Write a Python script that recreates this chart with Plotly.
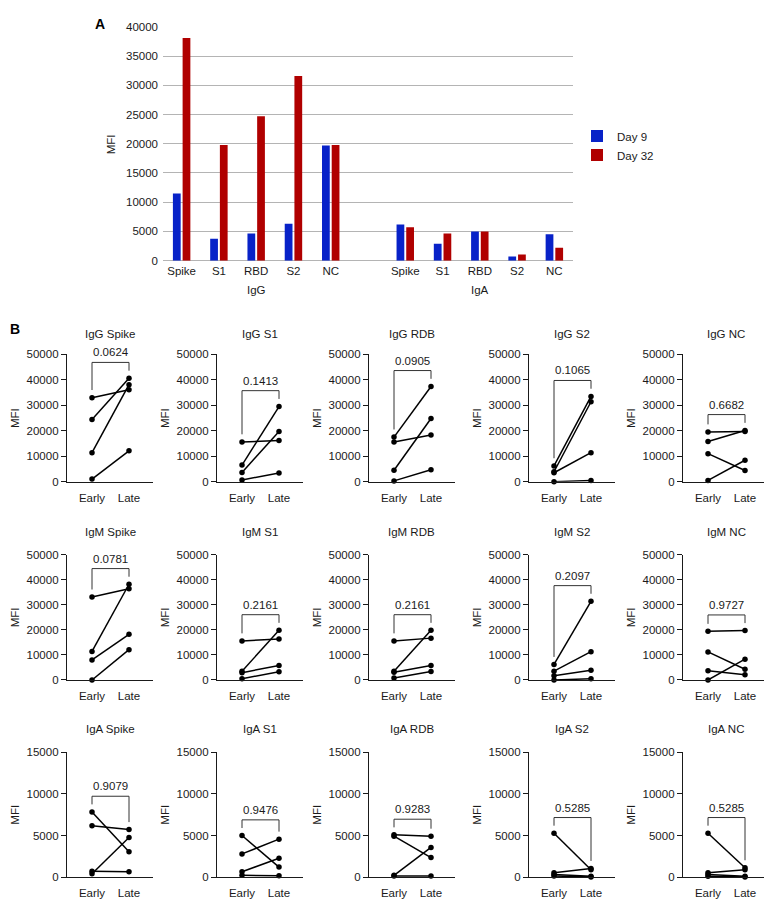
import plotly.graph_objects as go

# page body has an 8px default margin: the figure is laid out in page pixels
PAGE_W, PAGE_H = 772, 906
OFF = 8
W, H = PAGE_W - OFF, PAGE_H - OFF
FONT = "Liberation Sans, Arial, Helvetica, sans-serif"
FS = 11.5
BLUE = "#0822C8"
RED = "#B00000"
INK = "#1a1a1a"

# ---------------- Panel A data ----------------
cats_A = ["Spike", "S1", "RBD", "S2", "NC"]
groups_A = ["IgG", "IgA"]
igg_day9 = [11500, 3750, 4650, 6300, 19700]
igg_day32 = [38100, 19800, 24700, 31600, 19800]
iga_day9 = [6200, 2900, 5000, 730, 4500]
iga_day32 = [5700, 4650, 5000, 1070, 2200]

# ---------------- Panel B data (paired: Early[i] -> Late[i]) ----------------
antigens_B = ["Spike", "S1", "RDB", "S2", "NC"]
isotypes_B = ["IgG", "IgM", "IgA"]
timepoints = ["Early", "Late"]

igg_early = [[33000, 24400, 11400, 1000],
             [15600, 6500, 3600, 650],
             [17500, 15600, 4500, 300],
             [6200, 3900, 3500, 0],
             [19500, 15800, 11000, 500]]
igg_late = [[36100, 40600, 38100, 12100],
            [16200, 29500, 19700, 3400],
            [37400, 18300, 24800, 4700],
            [33500, 31400, 11400, 500],
            [19700, 20100, 4400, 8400]]
igg_p = ["0.0624", "0.1413", "0.0905", "0.1065", "0.6682"]

igm_early = [[33100, 11400, 8000, 0],
             [15600, 3500, 2900, 500],
             [15600, 3500, 3100, 800],
             [6200, 3500, 1700, 0],
             [19400, 11200, 3700, 0]]
igm_late = [[36400, 38200, 18200, 12100],
            [16400, 19800, 5800, 3300],
            [16700, 19800, 5800, 3400],
            [31400, 11300, 3900, 500],
            [19700, 4300, 2100, 8300]]
igm_p = ["0.0781", "0.2161", "0.2161", "0.2097", "0.9727"]

iga_early = [[7830, 6180, 430, 710],
             [5000, 2800, 670, 240],
             [5080, 4920, 240, 160],
             [5280, 550, 350, 160],
             [5280, 550, 350, 120]]
iga_late = [[3070, 5710, 4760, 670],
            [1220, 4570, 2280, 200],
            [4920, 2360, 3580, 160],
            [900, 1060, 120, 40],
            [1140, 900, 120, 40]]
iga_p = ["0.9079", "0.9476", "0.9283", "0.5285", "0.5285"]

y_max_B = [50000, 50000, 15000]
y_dtick_B = [10000, 10000, 5000]

early_B = [igg_early, igm_early, iga_early]
late_B = [igg_late, igm_late, iga_late]
p_B = [igg_p, igm_p, iga_p]


def fx(p):
    return (p - OFF) / W


def fy(p):
    return 1 - (p - OFF) / H


def label(x, y, text, size=FS, angle=0, color=INK, xanchor="center", yanchor="middle"):
    return dict(x=x, y=y, xref="paper", yref="paper", text=text, textangle=angle,
                showarrow=False, xanchor=xanchor, yanchor=yanchor,
                font=dict(family=FONT, size=size, color=color))


fig = go.Figure()
layout = {}
annotations = []
shapes = []

# ---------------- Panel A ----------------
x_pos_A = list(range(len(cats_A))) + [i + len(cats_A) + 1 for i in range(len(cats_A))]
fig.add_trace(go.Bar(x=x_pos_A, y=igg_day9 + iga_day9, name="Day 9",
                     marker=dict(color=BLUE, line=dict(width=0)), xaxis="x", yaxis="y"))
fig.add_trace(go.Bar(x=x_pos_A, y=igg_day32 + iga_day32, name="Day 32",
                     marker=dict(color=RED, line=dict(width=0)), xaxis="x", yaxis="y"))

layout["xaxis"] = dict(domain=[fx(163), fx(573)], range=[-0.5, 10.5],
                       tickvals=x_pos_A, ticktext=cats_A + cats_A,
                       showgrid=False, zeroline=False, showline=False, ticks="",
                       tickfont=dict(family=FONT, size=FS, color=INK), anchor="y",
                       ticklabelstandoff=2)
layout["yaxis"] = dict(domain=[fy(258), fy(21)], range=[0, 40000], dtick=5000,
                       tickformat="d",
                       showgrid=True, gridcolor="#b4b4b4", gridwidth=1,
                       zeroline=True, zerolinecolor="#b4b4b4", zerolinewidth=1,
                       showline=False, ticks="", anchor="x",
                       tickfont=dict(family=FONT, size=FS, color=INK),
                       ticklabelstandoff=4)
for gi, g in enumerate(groups_A):
    xc = x_pos_A[gi * len(cats_A) + len(cats_A) // 2]
    annotations.append(dict(x=xc, y=fy(288), xref="x", yref="paper", text=g,
                            showarrow=False, font=dict(family=FONT, size=FS, color=INK),
                            xanchor="center", yanchor="middle"))
annotations.append(label(fx(111), fy(140), "MFI", angle=-90))
annotations.append(label(fx(100), 1.0, "<b>A</b>", size=14, color="black", yanchor="top"))
annotations.append(label(0.0, fy(327), "<b>B</b>", size=14, color="black", xanchor="left"))

# ---------------- Panel B ----------------
col_axis_px = [67, 217, 369, 529, 683]
col_w = 86
row_top_px = [353, 556, 756]
row_bot_px = [482, 683, 883]
row_title_px = [332, 533, 733]
x_lo, x_hi = -25 / 37, (col_w - 25) / 37

for r in range(3):
    for c in range(5):
        k = 2 + r * 5 + c
        xa, ya = f"x{k}", f"y{k}"
        e_vals = early_B[r][c]
        l_vals = late_B[r][c]
        xs, ys = [], []
        for e, l in zip(e_vals, l_vals):
            xs += [0, 1, None]
            ys += [e, l, None]
        fig.add_trace(go.Scatter(x=xs, y=ys, mode="lines+markers", xaxis=xa, yaxis=ya,
                                 line=dict(color="black", width=1.5),
                                 marker=dict(color="black", size=5.5),
                                 cliponaxis=False, showlegend=False, hoverinfo="skip"))
        x0 = col_axis_px[c]
        layout[f"xaxis{k}"] = dict(domain=[fx(x0), fx(x0 + col_w)], range=[x_lo, x_hi],
                                   tickvals=[0, 1], ticktext=timepoints, anchor=ya,
                                   showline=True, linecolor=INK, linewidth=1.3,
                                   showgrid=False, zeroline=False, ticks="",
                                   ticklabelstandoff=5,
                                   tickfont=dict(family=FONT, size=FS, color=INK))
        ymax = y_max_B[r]
        layout[f"yaxis{k}"] = dict(domain=[fy(row_bot_px[r]), fy(row_top_px[r])],
                                   range=[0, ymax], dtick=y_dtick_B[r], anchor=xa,
                                   tickformat="d",
                                   showline=True, linecolor=INK, linewidth=1.3,
                                   showgrid=False, zeroline=False, ticks="outside",
                                   ticklen=5, tickwidth=1.3, tickcolor=INK,
                                   tickfont=dict(family=FONT, size=FS, color=INK))
        # bracket
        top = max(max(e_vals), max(l_vals)) + 0.125 * ymax
        leg_e = max(e_vals) + 0.06 * ymax
        leg_l = max(l_vals) + 0.06 * ymax
        shapes.append(dict(type="path", xref=xa, yref=ya,
                           path=f"M 0,{leg_e} L 0,{top} L 1,{top} L 1,{leg_l}",
                           line=dict(color="#333333", width=1)))
        annotations.append(dict(x=0.5, y=top, xref=xa, yref=ya, text=p_B[r][c],
                                showarrow=False, xanchor="center", yanchor="bottom", yshift=2,
                                font=dict(family=FONT, size=FS, color=INK)))
        # title
        annotations.append(label(fx(x0 + col_w / 2), fy(row_title_px[r]),
                                 f"{isotypes_B[r]} {antigens_B[c]}"))
        # y title
        annotations.append(label(fx(x0 - 52), fy((row_top_px[r] + row_bot_px[r]) / 2),
                                 "MFI", angle=-90))

fig.update_layout(
    width=W, height=H,
    margin=dict(l=0, r=0, t=0, b=0),
    paper_bgcolor="white", plot_bgcolor="white",
    barmode="group", bargap=0.48, bargroupgap=0.2,
    showlegend=True,
    legend=dict(x=fx(577), y=fy(117), xanchor="left", yanchor="top",
                font=dict(family=FONT, size=FS, color=INK), bgcolor="rgba(0,0,0,0)",
                itemwidth=30, tracegroupgap=0),
    annotations=annotations, shapes=shapes,
    font=dict(family=FONT, size=FS, color=INK),
    **layout,
)

fig.write_html("out.html")
